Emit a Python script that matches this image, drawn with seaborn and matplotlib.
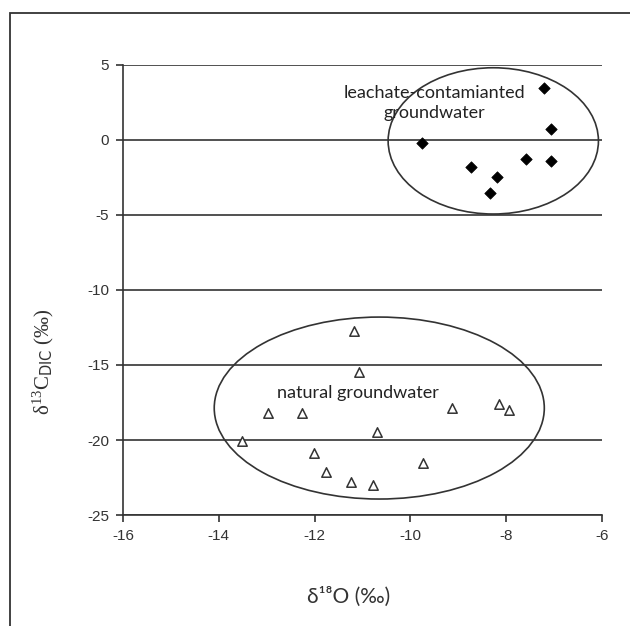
import numpy as np
import pandas as pd
import matplotlib
matplotlib.use("Agg")
import matplotlib.pyplot as plt
import seaborn as sns
from matplotlib.patches import Ellipse, Rectangle

# leachate-contaminated groundwater (filled diamonds)
leach_o18 = [-7.21, -7.06, -9.76, -8.73, -8.20, -8.34, -7.59, -7.07]
leach_c13 = [3.49, 0.73, -0.20, -1.78, -2.45, -3.55, -1.29, -1.40]

# natural groundwater (open triangles)
nat_o18 = [-11.18, -11.07, -12.97, -12.26, -9.13, -8.15, -7.94,
           -10.70, -13.52, -12.01, -11.76, -11.24, -10.78, -9.74]
nat_c13 = [-12.73, -15.47, -18.20, -18.20, -17.87, -17.60, -18.00,
           -19.47, -20.07, -20.87, -22.13, -22.80, -23.00, -21.53]

x_ticks = [-16, -14, -12, -10, -8, -6]
y_ticks = [5, 0, -5, -10, -15, -20, -25]

leach = pd.DataFrame({"o18": leach_o18, "c13": leach_c13})
nat = pd.DataFrame({"o18": nat_o18, "c13": nat_c13})

sns.set_style("white")
plt.rcParams["font.family"] = ["Liberation Sans", "DejaVu Sans"]
plt.rcParams["axes.unicode_minus"] = False

fig = plt.figure(figsize=(6.3, 6.26), dpi=100)
ax = fig.add_axes([0.1952, 0.1773, 0.7604, 0.7189])

# outer frame (cut off on the right and bottom)
fig.patches.append(Rectangle((10 / 630, -0.1), 1.2, 1 - 13 / 626 + 0.1,
                             transform=fig.transFigure, fill=False,
                             edgecolor="#333333", linewidth=1.3, clip_on=False))

for y in y_ticks:
    ax.axhline(y, color="#333333", linewidth=1.2, zorder=1)

sns.scatterplot(data=leach, x="o18", y="c13", marker="D", color="black",
                s=34, edgecolor="black", linewidth=0.5, ax=ax, zorder=3)
sns.scatterplot(data=nat, x="o18", y="c13", marker="^", color="white",
                s=46, edgecolor="#333333", linewidth=1.1, ax=ax, zorder=3)

ax.add_patch(Ellipse((-8.27, -0.06), 4.39, 9.75, fill=False,
                     edgecolor="#333333", linewidth=1.2, zorder=2))
ax.add_patch(Ellipse((-10.65, -17.87), 6.89, 12.13, fill=False,
                     edgecolor="#333333", linewidth=1.2, zorder=2))

ax.text(-9.5, 2.45, "leachate-contamianted\ngroundwater", ha="center",
        va="center", fontsize=13, family=["Lato", "DejaVu Sans"],
        color="#222222", linespacing=1.3, zorder=4)
ax.text(-11.1, -16.85, "natural groundwater", ha="center", va="center",
        fontsize=13, family=["Lato", "DejaVu Sans"], color="#222222",
        zorder=4)

ax.set_xlim(-16, -6)
ax.set_ylim(-25, 5)
ax.set_xticks(x_ticks)
ax.set_yticks(y_ticks)
ax.tick_params(axis="both", direction="out", length=5, width=1.2,
               color="#333333", labelsize=11, labelcolor="#333333", pad=5,
               left=True, bottom=True)

for side in ["top", "right"]:
    ax.spines[side].set_visible(False)
for side in ["left", "bottom"]:
    ax.spines[side].set_color("#333333")
    ax.spines[side].set_linewidth(1.2)

ax.set_xlabel("δ¹⁸O (‰)", fontsize=15, family=["Lato", "DejaVu Sans"],
              color="#333333")
ax.xaxis.set_label_coords(0.47, -0.16)
ax.set_ylabel(r"$\mathregular{\delta^{13}C}$$_{\mathrm{DIC}}$ (‰)", fontsize=15,
              family=["Liberation Serif", "DejaVu Serif"], color="#333333")
ax.yaxis.set_label_coords(-0.14, 0.34)

fig.savefig("out.png", dpi=100)
